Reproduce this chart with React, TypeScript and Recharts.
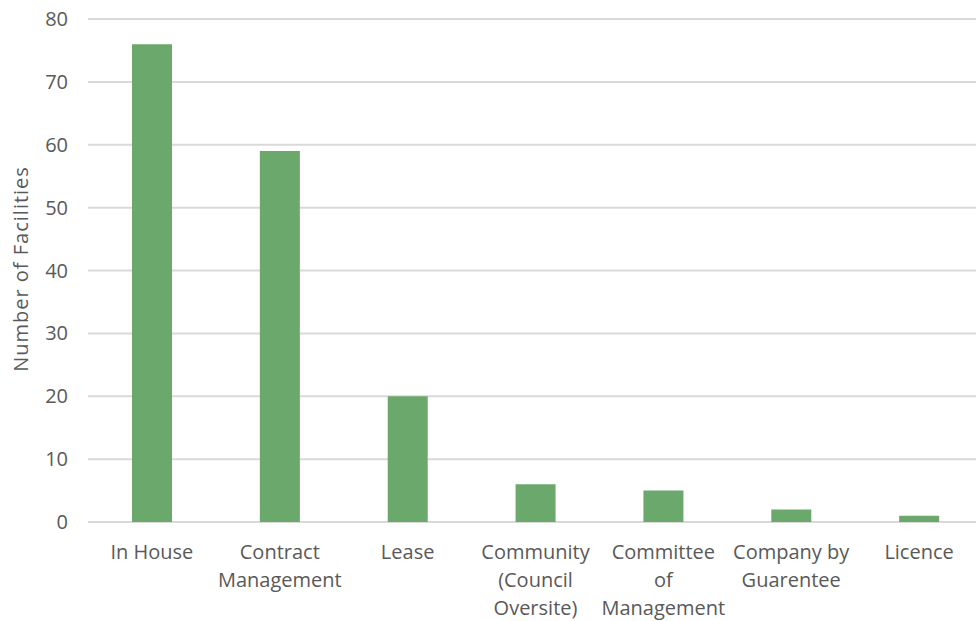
import React from "react";
import { BarChart, Bar, XAxis, YAxis, CartesianGrid } from "recharts";

const categories = [
  "In House",
  "Contract Management",
  "Lease",
  "Community (Council Oversite)",
  "Committee of Management",
  "Company by Guarentee",
  "Licence",
];
const categoryLines: string[][] = [
  ["In House"],
  ["Contract", "Management"],
  ["Lease"],
  ["Community", "(Council", "Oversite)"],
  ["Committee", "of", "Management"],
  ["Company by", "Guarentee"],
  ["Licence"],
];
const facilities = [76, 59, 20, 6, 5, 2, 1];
const yTicks = [0, 10, 20, 30, 40, 50, 60, 70, 80];
const yLabel = "Number of Facilities";

const data = categories.map((c, i) => ({ name: c, value: facilities[i], idx: i }));

const FONT = "'Open Sans', sans-serif";
const TEXT = "#595959";

const XTick = (props: any) => {
  const { x, y, index } = props;
  const lines = categoryLines[index] || [props.payload.value];
  return (
    <text x={x} y={y} textAnchor="middle" fill={TEXT} fontSize={20} fontFamily={FONT}>
      {lines.map((l, i) => (
        <tspan key={i} x={x} y={y + 37 + i * 28}>
          {l}
        </tspan>
      ))}
    </text>
  );
};

const YLabel = () => (
  <text
    x={20}
    y={269}
    transform="rotate(-90 20 269)"
    textAnchor="middle"
    dominantBaseline="central"
    fill={TEXT}
    fontSize={20}
    letterSpacing={1}
    fontFamily={FONT}
  >
    {yLabel}
  </text>
);

export default function App() {
  return (
    <div
      style={{
        position: "absolute",
        left: 0,
        top: 0,
        width: 976,
        height: 621,
        overflow: "hidden",
        background: "#fff",
      }}
    >
      <BarChart
        width={983}
        height={621}
        data={data}
        margin={{ top: 19, right: 0, bottom: 0, left: 0 }}
        barCategoryGap="34%"
      >
        <CartesianGrid vertical={false} stroke="#d9d9d9" strokeWidth={2} />
        <XAxis
          dataKey="name"
          axisLine={false}
          tickLine={false}
          tickSize={0}
          tickMargin={0}
          height={99}
          interval={0}
          tick={<XTick />}
        />
        <YAxis
          width={88}
          domain={[0, 80]}
          ticks={yTicks}
          axisLine={false}
          tickLine={false}
          tickSize={0}
          tickMargin={20}
          tick={{ fill: TEXT, fontSize: 20, fontFamily: FONT }}
          label={<YLabel />}
        />
        <Bar dataKey="value" fill="#6aa86b" barSize={40} isAnimationActive={false} />
      </BarChart>
    </div>
  );
}
